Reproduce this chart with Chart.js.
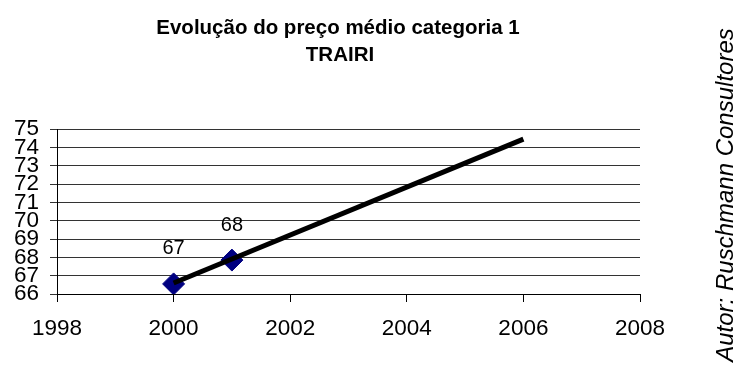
<!DOCTYPE html>
<html>
<head>
<meta charset="utf-8">
<script src="https://cdn.jsdelivr.net/npm/chart.js@4/dist/chart.umd.min.js"></script>
<style>
  html, body { margin: 0; padding: 0; background: #fff; }
  #wrap { width: 741px; height: 367px; position: relative; }
</style>
</head>
<body>
<div id="wrap"><canvas id="c" width="741" height="367"></canvas></div>
<script>
// Average price, category 1 (observed years)
const years = [2000, 2001];
const prices = [66.55, 67.85];

// Linear trend endpoints
const trendYears = [2000, 2006];
const trendValues = [66.6, 74.45];

// Axis settings
const xTicks = [1998, 2000, 2002, 2004, 2006, 2008];
const yMin = 66, yMax = 75;

const titleLines = ['Evolução do preço médio categoria 1', 'TRAIRI'];
const authorText = 'Autor: Ruschmann Consultores';

const FONT = '"Liberation Sans", Arial, sans-serif';

const decorPlugin = {
  id: 'decor',
  afterDatasetsDraw(chart) {
    const ctx = chart.ctx;
    const meta = chart.getDatasetMeta(1);
    ctx.save();
    ctx.fillStyle = '#000';
    ctx.font = '20px ' + FONT;
    ctx.textAlign = 'center';
    ctx.textBaseline = 'middle';
    meta.data.forEach((pt, i) => {
      ctx.fillText(String(Math.round(prices[i])), pt.x, pt.y - 35);
    });
    ctx.restore();
  },
  afterDraw(chart) {
    const ctx = chart.ctx;
    ctx.save();
    ctx.fillStyle = '#000';
    ctx.font = 'bold 20.5px ' + FONT;
    ctx.textAlign = 'center';
    ctx.textBaseline = 'alphabetic';
    ctx.fillText(titleLines[0], 338, 34);
    ctx.fillText(titleLines[1], 340, 61);

    ctx.font = 'italic 24px ' + FONT;
    ctx.translate(733, 195);
    ctx.rotate(-Math.PI / 2);
    ctx.textAlign = 'center';
    ctx.fillText(authorText, 0, 0);
    ctx.restore();
  }
};

new Chart(document.getElementById('c'), {
  type: 'scatter',
  data: {
    datasets: [
      {
        label: 'Tendência',
        data: trendYears.map((x, i) => ({ x, y: trendValues[i] })),
        showLine: true,
        borderColor: '#000',
        borderWidth: 5,
        pointRadius: 0,
        borderCapStyle: 'butt'
      },
      {
        label: 'Preço médio',
        data: years.map((x, i) => ({ x, y: prices[i] })),
        showLine: false,
        pointStyle: 'rectRot',
        pointRadius: 11,
        backgroundColor: '#000080',
        borderColor: '#000080',
        borderWidth: 1
      }
    ]
  },
  options: {
    responsive: false,
    animation: false,
    devicePixelRatio: 1,
    layout: { padding: { left: 0, top: 129, right: 101, bottom: 0 } },
    plugins: {
      legend: { display: false },
      title: { display: false },
      tooltip: { enabled: false }
    },
    scales: {
      x: {
        type: 'linear',
        min: xTicks[0],
        max: xTicks[xTicks.length - 1],
        afterBuildTicks(scale) { scale.ticks = xTicks.map(v => ({ value: v })); },
        afterFit(scale) { scale.height = 73; },
        grid: { drawOnChartArea: false, drawTicks: true, tickLength: 8, color: '#000', lineWidth: 1 },
        border: { display: true, color: '#000', width: 1 },
        ticks: { color: '#000', font: { family: FONT, size: 22.5 }, padding: 13, maxRotation: 0, callback: v => String(v) }
      },
      y: {
        type: 'linear',
        min: yMin,
        max: yMax,
        afterFit(scale) { scale.width = 57; },
        grid: { drawOnChartArea: true, drawTicks: true, tickLength: 7, color: '#333', lineWidth: 1 },
        border: { display: true, color: '#000', width: 1 },
        ticks: { stepSize: 1, color: '#000', font: { family: FONT, size: 22.5 }, padding: 11, autoSkip: false }
      }
    }
  },
  plugins: [decorPlugin]
});
</script>
</body>
</html>
